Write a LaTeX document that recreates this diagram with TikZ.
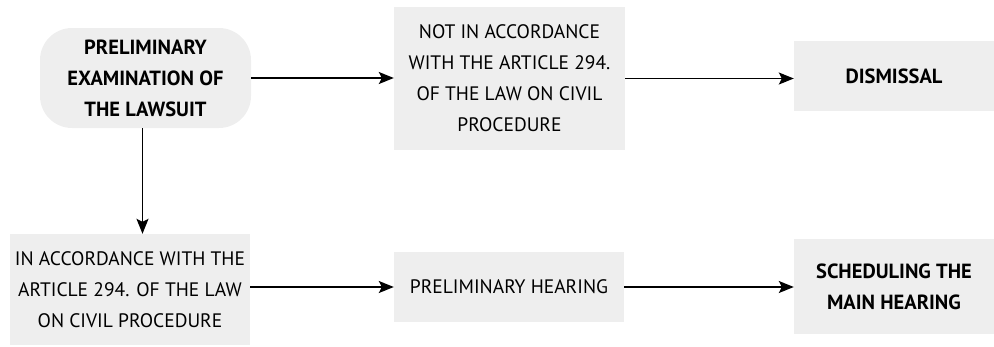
\documentclass[tikz,border=0pt]{standalone}
\usepackage{fontspec}
\setmainfont{PT Sans}
\usetikzlibrary{arrows.meta}
\definecolor{boxgray}{HTML}{EEEEEE}
\begin{document}
\begin{tikzpicture}[x=1pt,y=-1pt,
  box/.style={fill=boxgray, draw=none, align=center, inner sep=0pt,
    font=\fontsize{19.5}{31}\selectfont},
  boldbox/.style={box, font=\bfseries\fontsize{20.5}{31}\selectfont},
  arr/.style={line width=1.3pt, -{Stealth[length=15pt,width=12pt,inset=3pt]}}]
\useasboundingbox (0,0) rectangle (994,346);
\node[boldbox, rounded corners=32pt, minimum width=211pt, minimum height=100pt] (A) at (145.5,78) {PRELIMINARY\\EXAMINATION OF\\THE LAWSUIT};
\node[box, minimum width=231pt, minimum height=143pt] (B) at (509.5,78.5) {NOT IN ACCORDANCE\\WITH THE ARTICLE 294.\\OF THE LAW ON CIVIL\\PROCEDURE};
\node[boldbox, minimum width=200pt, minimum height=70pt] (C) at (894,76) {DISMISSAL};
\node[box, minimum width=240pt, minimum height=111pt] (D) at (130,289.5) {IN ACCORDANCE WITH THE\\ARTICLE 294. OF THE LAW\\ON CIVIL PROCEDURE};
\node[box, minimum width=230pt, minimum height=70pt] (E) at (509,287) {PRELIMINARY HEARING};
\node[boldbox, minimum width=200pt, minimum height=95pt] (F) at (894,286.5) {SCHEDULING THE\\MAIN HEARING};
\draw[arr] (A.east) -- (A.east -| B.west);
\draw[arr] (B.east) -- (B.east -| C.west);
\draw[arr] ([xshift=-3pt]A.south) -- ([xshift=-3pt]A.south |- D.north);
\draw[arr] (D.east |- E.west) -- (E.west);
\draw[arr] (E.east) -- (E.east -| F.west);
\end{tikzpicture}
\end{document}
